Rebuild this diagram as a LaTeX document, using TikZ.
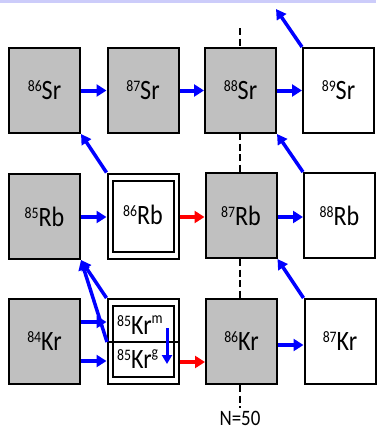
\documentclass[tikz,border=0pt]{standalone}
\usepackage{fontspec}
\usepackage{graphicx}
\setmainfont{Carlito}
\usetikzlibrary{arrows.meta}
% isotope label: mass number as raised small digits, narrowed glyphs
\newcommand\nucl[2]{\scalebox{0.86}[1]{\raisebox{8pt}{\fontsize{16}{16}\selectfont #1}#2}}
\newcommand\lvl[1]{\scalebox{0.86}[1]{\raisebox{10.5pt}{\fontsize{16}{16}\selectfont #1}}}
\definecolor{stablegray}{RGB}{192,192,192}
\definecolor{bandcol}{RGB}{204,204,250}
\begin{document}
\begin{tikzpicture}[x=1pt,y=-1pt,
  nuc/.style={draw=black, line width=2pt, minimum width=71pt, minimum height=85pt,
    inner sep=0pt, font=\fontsize{28}{28}\selectfont},
  stable/.style={nuc, fill=stablegray},
  unstable/.style={nuc, fill=white},
  innerbox/.style={draw=black, line width=2pt, minimum width=61pt, minimum height=71pt, inner sep=0pt},
  lbl/.style={inner sep=0pt, anchor=base west, font=\fontsize{28}{28}\selectfont},
  capture/.style={blue, line width=4pt, -{Triangle[length=10pt,width=12pt]}},
  beta/.style={blue, line width=3.5pt, -{Triangle[length=10pt,width=11pt]}},
  fast/.style={red, line width=4pt, -{Triangle[length=10pt,width=12pt]}},
  shell/.style={black, line width=1.3pt, dash pattern=on 7pt off 3.5pt}
]
\useasboundingbox (0,0) rectangle (376,432);
\fill[bandcol] (0,0) rectangle (376,2.5);

% closed neutron shell
\coordinate (shtop) at (240,28);
\coordinate (shbot) at (240,408);
\draw[shell] (shtop) -- (shbot);
\node[inner sep=0pt, font=\fontsize{22}{22}\selectfont] (nlabel) at (240,418.5) {\scalebox{0.86}[1]{N=50}};

% strontium
\node[stable]   (sr86) at (44.5,90.5)  {\nucl{86}{Sr}};
\node[stable]   (sr87) at (143,90.5)   {\nucl{87}{Sr}};
\node[stable]   (sr88) at (240.5,90.5) {\nucl{88}{Sr}};
\node[unstable] (sr89) at (338.5,90.5) {\nucl{89}{Sr}};

% rubidium
\node[stable]   (rb85) at (44.5,216.5)  {\nucl{85}{Rb}};
\node[unstable] (rb86) at (143,216)     {};
\node[innerbox] (rb86in) at (143,216)   {};
\node[font=\fontsize{28}{28}\selectfont, inner sep=0pt] (rb86t) at (143,215) {\nucl{86}{Rb}};
\node[stable]   (rb87) at (241,215.5)   {\nucl{87}{Rb}};
\node[unstable] (rb88) at (339.5,215.5) {\nucl{88}{Rb}};

% krypton
\node[stable]   (kr84) at (44.5,341.5)  {\nucl{84}{Kr}};
\node[unstable] (kr85) at (143,341.5)   {};
\node[innerbox] (kr85in) at (143,341.5) {};
\coordinate (kmidL) at (107,342);
\coordinate (kmidR) at (179,342);
\draw[line width=2pt] (kmidL) -- (kmidR);
\node[lbl] (krm) at (117,334) {\nucl{85}{Kr}\lvl{m}};
\node[lbl] (krg) at (117,368) {\nucl{85}{Kr}\lvl{g}};
\node[stable]   (kr86) at (241.5,341.5) {\nucl{86}{Kr}};
\node[unstable] (kr87) at (340,341.5)   {\nucl{87}{Kr}};

% heights of the arrows in the krypton row
\coordinate (yup) at (0,322);
\coordinate (ylo) at (0,361);
\coordinate (yfast) at (0,362);
\coordinate (ykr) at (0,345);
\coordinate (yrb) at (0,217);

% neutron captures
\draw[capture] (sr86) -- (sr87);
\draw[capture] (sr87) -- (sr88);
\draw[capture] (sr88) -- (sr89);
\draw[capture] (rb85.east |- yrb) -- (rb86.west |- yrb);
\draw[capture] (rb87.east |- yrb) -- (rb88.west |- yrb);
\draw[capture] (kr84.east |- yup) -- (kr85.west |- yup);
\draw[capture] (kr84.east |- ylo) -- (kr85.west |- ylo);
\draw[capture] (kr86.east |- ykr) -- (kr87.west |- ykr);

% branchings at the unstable nuclei
\draw[fast] (rb86.east |- yrb) -- (rb87.west |- yrb);
\draw[fast] (kr85.east |- yfast) -- (kr86.west |- yfast);

% isomeric transition
\coordinate (itop) at (167,328);
\coordinate (ibot) at (167,364);
\draw[blue, line width=3pt, -{Triangle[length=9pt,width=10pt]}] (itop) -- (ibot);

% beta decays
\coordinate (srout) at (276,9);
\draw[beta] (sr89.north west) -- (srout);
\draw[beta] (rb88.north west) -- (sr88.south east);
\draw[beta] (rb86.north west) -- (sr86.south east);
\draw[beta] (kr87.north west) -- (rb87.south east);
\draw[beta] (kr85.north west) -- (rb85.south east);
\draw[beta] (kmidL) -- (rb85.south east);
\end{tikzpicture}
\end{document}
